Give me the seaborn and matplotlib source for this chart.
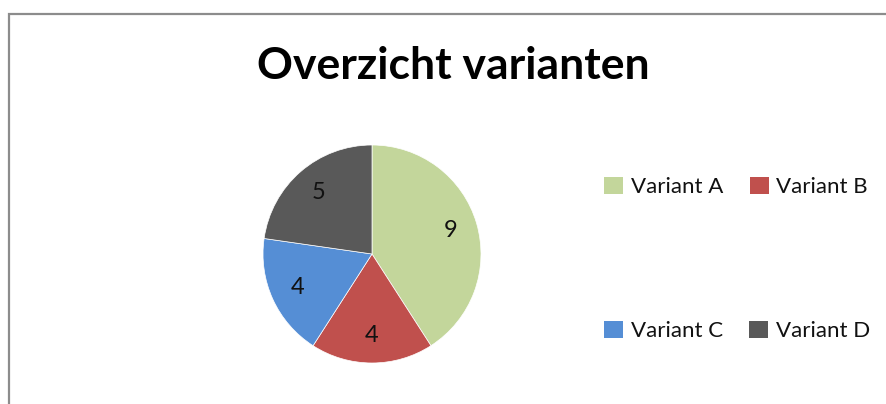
import matplotlib
matplotlib.use("Agg")
import matplotlib.pyplot as plt
from matplotlib.patches import Rectangle, Patch
import seaborn as sns

title = "Overzicht varianten"
categories = ["Variant A", "Variant B", "Variant C", "Variant D"]
values = [9, 4, 4, 5]
colors = ["#C3D69B", "#C0504D", "#558ED5", "#595959"]

sns.set_theme(style="white")
plt.rcParams['font.family'] = ['Lato', 'DejaVu Sans']

W, H = 886, 404
fig = plt.figure(figsize=(W / 100, H / 100), dpi=100)
fig.patch.set_facecolor("white")

# outer chart border (extends past right/bottom edges)
fig.patches.append(Rectangle((8.5 / W, -0.5), 2.0, 1 - 13.5 / H + 0.5,
                             transform=fig.transFigure, fill=False,
                             edgecolor="#8c8c8c", linewidth=1.6))

cx, cy, r = 372, 254, 109
ax = fig.add_axes([(cx - r) / W, (H - cy - r) / H, 2 * r / W, 2 * r / H])
palette = sns.color_palette(colors)
wedges, texts, autotexts = ax.pie(
    values, colors=palette, startangle=90, counterclock=False,
    autopct=lambda p: f"{round(p * sum(values) / 100):d}",
    pctdistance=0.75, radius=1.0,
    wedgeprops=dict(linewidth=0.5, edgecolor="white"),
    textprops=dict(fontsize=17, color="#111111"))
ax.set_xlim(-1, 1)
ax.set_ylim(-1, 1)
ax.set_aspect("equal")
ax.axis("off")

fig.text(453 / W, 1 - 66 / H, title, ha="center", va="center",
         fontsize=32, fontweight="bold", color="black")

handles = [Patch(facecolor=c, edgecolor="none") for c in colors]
rows = [(0, 1, 187), (2, 3, 331)]
for i, j, yy in rows:
    leg = fig.legend([handles[i], handles[j]], [categories[i], categories[j]],
                     loc="center left", bbox_to_anchor=(604 / W, 1 - yy / H),
                     ncol=2, frameon=False, fontsize=16, handlelength=0.85,
                     handleheight=0.85, handletextpad=0.35, columnspacing=1.2,
                     borderpad=0, borderaxespad=0)
    for t in leg.get_texts():
        t.set_color("#111111")

fig.savefig("out.png", dpi=100)
